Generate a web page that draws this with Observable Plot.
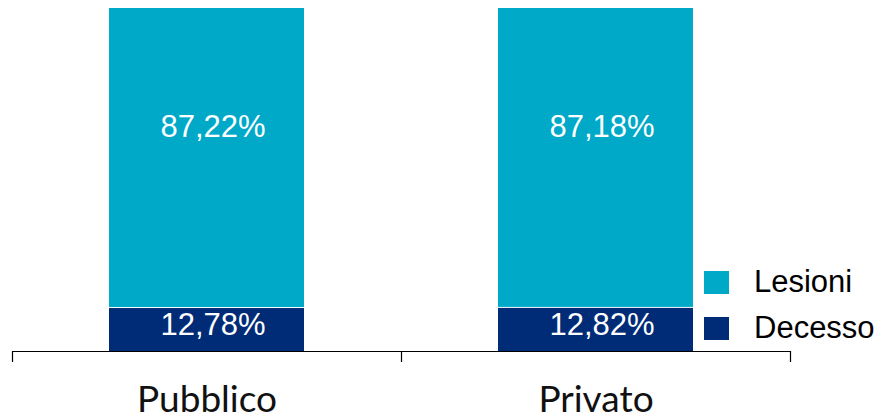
<!DOCTYPE html>
<html><head><meta charset="utf-8">
<script src="https://cdn.jsdelivr.net/npm/d3@7"></script>
<script src="https://cdn.jsdelivr.net/npm/@observablehq/plot@0.6"></script>
<style>
body{margin:0;background:#fff}
#wrap{position:relative;width:881px;height:419px}
.legend{position:absolute;left:704px;top:259px;font-family:"Liberation Sans",Arial,sans-serif;font-size:31px;color:#000}
.item{display:flex;align-items:center;height:46px}
.sw{width:25px;height:23px;margin-right:25px}
</style></head><body><div id="wrap"></div>
<script>
const categories = ["Pubblico", "Privato"];
const series = ["Decesso", "Lesioni"];
const decesso = [12.78, 12.82];
const lesioni = [87.22, 87.18];
const colors = ["#002B76", "#00A9C8"];
const legendOrder = ["Lesioni", "Decesso"];

const rows = [];
categories.forEach((c, i) => {
  rows.push({cat: c, series: "Decesso", value: decesso[i]});
  rows.push({cat: c, series: "Lesioni", value: lesioni[i]});
});
const fmt = v => v.toFixed(2).replace(".", ",") + "%";

const W = 881, H = 419, mL = 12, mR = 91, mT = 7, mB = 68;
const step = (W - mL - mR) / categories.length;
const inset = 97;

const plot = Plot.plot({
  width: W, height: H,
  marginLeft: mL, marginRight: mR, marginTop: mT, marginBottom: mB,
  x: {domain: categories, padding: 0, axis: null},
  y: {domain: [0, 100], axis: null},
  color: {domain: series, range: colors},
  style: {background: "#fff"},
  marks: [
    Plot.barY(rows, Plot.stackY({x: "cat", y: "value", fill: "series", insetLeft: inset, insetRight: inset, insetTop: 1})),
    Plot.text(rows, Plot.stackY({x: "cat", y: "value", z: "series", text: d => d.series === "Lesioni" ? fmt(d.value) : "", fill: "white", fontSize: 31, fontFamily: "Liberation Sans", dx: 6, dy: -30, lineAnchor: "middle"})),
    Plot.text(rows, Plot.stackY({x: "cat", y: "value", z: "series", text: d => d.series === "Decesso" ? fmt(d.value) : "", fill: "white", fontSize: 31, fontFamily: "Liberation Sans", dx: 6, dy: -4, lineAnchor: "middle"})),
    Plot.ruleY([0], {stroke: "#000", strokeWidth: 1.2}),
    Plot.ruleX(categories, {x: d => d, y1: 0, y2: 0, insetBottom: -11, dx: -step / 2, stroke: "#000", strokeWidth: 1.2}),
    Plot.ruleX(categories.slice(-1), {x: d => d, y1: 0, y2: 0, insetBottom: -11, dx: step / 2, stroke: "#000", strokeWidth: 1.2}),
    Plot.text(categories, {x: d => d, text: d => d, frameAnchor: "bottom", dy: 49, lineAnchor: "middle", fontSize: 37, fontFamily: "Lato", fill: "#111"})
  ]
});
const wrap = document.getElementById("wrap");
wrap.appendChild(plot);
const leg = document.createElement("div");
leg.className = "legend";
legendOrder.forEach(s => {
  const it = document.createElement("div");
  it.className = "item";
  const sw = document.createElement("div");
  sw.className = "sw";
  sw.style.background = colors[series.indexOf(s)];
  const t = document.createElement("span");
  t.textContent = s;
  it.appendChild(sw); it.appendChild(t);
  leg.appendChild(it);
});
wrap.appendChild(leg);
</script></body></html>
